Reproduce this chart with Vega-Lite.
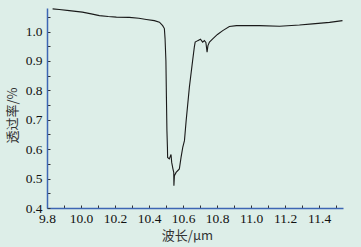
{
  "$schema": "https://vega.github.io/schema/vega-lite/v6.json",
  "autosize": "none",
  "padding": {"left": 47, "top": 8, "right": 18, "bottom": 39},
  "width": 296,
  "height": 200,
  "background": "#ddeee8",
  "config": {
    "view": {"stroke": null, "fill": "#ddeee8"}
  },
  "data": {"values": [
    {"w": 9.833, "t": 1.077}, {"w": 9.872, "t": 1.075}, {"w": 9.931, "t": 1.071},
    {"w": 10.008, "t": 1.066}, {"w": 10.06, "t": 1.060}, {"w": 10.108, "t": 1.054},
    {"w": 10.16, "t": 1.051}, {"w": 10.208, "t": 1.049}, {"w": 10.284, "t": 1.048},
    {"w": 10.34, "t": 1.045}, {"w": 10.384, "t": 1.041}, {"w": 10.431, "t": 1.037},
    {"w": 10.461, "t": 1.032}, {"w": 10.48, "t": 1.02}, {"w": 10.49, "t": 1.01},
    {"w": 10.494, "t": 0.976}, {"w": 10.499, "t": 0.901}, {"w": 10.502, "t": 0.777},
    {"w": 10.505, "t": 0.663}, {"w": 10.508, "t": 0.605}, {"w": 10.509, "t": 0.572},
    {"w": 10.519, "t": 0.567}, {"w": 10.529, "t": 0.582}, {"w": 10.533, "t": 0.555},
    {"w": 10.54, "t": 0.534}, {"w": 10.545, "t": 0.521}, {"w": 10.546, "t": 0.476},
    {"w": 10.549, "t": 0.51}, {"w": 10.559, "t": 0.521}, {"w": 10.578, "t": 0.533},
    {"w": 10.588, "t": 0.572}, {"w": 10.598, "t": 0.606}, {"w": 10.608, "t": 0.629},
    {"w": 10.618, "t": 0.697}, {"w": 10.637, "t": 0.811}, {"w": 10.656, "t": 0.901},
    {"w": 10.666, "t": 0.947}, {"w": 10.671, "t": 0.964}, {"w": 10.686, "t": 0.969},
    {"w": 10.702, "t": 0.974}, {"w": 10.715, "t": 0.964}, {"w": 10.725, "t": 0.969},
    {"w": 10.734, "t": 0.963}, {"w": 10.741, "t": 0.93}, {"w": 10.746, "t": 0.952},
    {"w": 10.755, "t": 0.964}, {"w": 10.774, "t": 0.975}, {"w": 10.802, "t": 0.99},
    {"w": 10.833, "t": 1.003}, {"w": 10.872, "t": 1.017}, {"w": 10.914, "t": 1.02},
    {"w": 10.971, "t": 1.02}, {"w": 11.049, "t": 1.02}, {"w": 11.167, "t": 1.018},
    {"w": 11.284, "t": 1.022}, {"w": 11.361, "t": 1.026}, {"w": 11.461, "t": 1.031},
    {"w": 11.537, "t": 1.037}
  ]},
  "mark": {"type": "line", "color": "#1a1a1a", "strokeWidth": 1.1},
  "encoding": {
    "x": {
      "field": "w", "type": "quantitative",
      "scale": {"domain": [9.8, 11.54], "nice": false, "zero": false},
      "axis": {
        "title": "波长/μm",
        "titleX": 140,
        "grid": false,
        "domainColor": "#3d66b4",
        "domainWidth": 1.5,
        "tickColor": "#333333",
        "tickWidth": 1,
        "labelFont": "Liberation Serif",
        "labelFontSize": 13.5,
        "labelColor": "#111111",
        "titleFont": "Noto Sans CJK SC",
        "titleFontSize": 13,
        "titleFontWeight": "normal",
        "titleColor": "#333333",
        "values": [9.8, 9.9, 10.0, 10.1, 10.2, 10.3, 10.4, 10.5, 10.6, 10.7, 10.8, 10.9, 11.0, 11.1, 11.2, 11.3, 11.4, 11.5],
        "labelExpr": "round(datum.value*10) % 2 == 0 ? format(datum.value, '.1f') : ''",
        "tickSize": -3,
        "labelPadding": 6,
        "labelFlush": false,
        "labelOverlap": false,
        "titlePadding": 5
      }
    },
    "y": {
      "field": "t", "type": "quantitative",
      "scale": {"domain": [0.4, 1.08], "nice": false, "zero": false},
      "axis": {
        "title": "透过率/%",
        "titleY": 107,
        "grid": false,
        "domainColor": "#3d66b4",
        "domainWidth": 1.5,
        "tickColor": "#333333",
        "tickWidth": 1,
        "labelFont": "Liberation Serif",
        "labelFontSize": 13.5,
        "labelColor": "#111111",
        "titleFont": "Noto Sans CJK SC",
        "titleFontSize": 13,
        "titleFontWeight": "normal",
        "titleColor": "#333333",
        "values": [0.4, 0.45, 0.5, 0.55, 0.6, 0.65, 0.7, 0.75, 0.8, 0.85, 0.9, 0.95, 1.0, 1.05],
        "labelExpr": "round(datum.value*100) % 10 == 0 ? format(datum.value, '.1f') : ''",
        "tickSize": -3,
        "labelPadding": 8,
        "labelFlush": false,
        "labelOverlap": false,
        "titlePadding": 6
      }
    }
  }
}
